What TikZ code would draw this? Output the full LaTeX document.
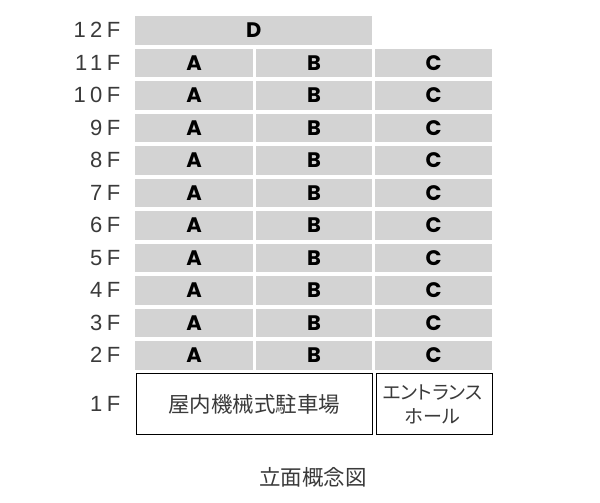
\documentclass[tikz,border=0pt]{standalone}
\usepackage{fontspec}
\setmainfont{Liberation Sans}
\newfontfamily\jpfont{Noto Sans CJK JP}
\newfontfamily\jpprop{Noto Sans CJK JP}[RawFeature=+palt]
\newfontfamily\letterfont{Poppins}
\newfontfamily\flfont{Liberation Sans}[LetterSpace=20]
\definecolor{cellgray}{HTML}{D3D3D3}
\definecolor{txtgray}{HTML}{3A3A3A}
\begin{document}
\begin{tikzpicture}[x=1pt,y=-1pt,
  cell/.style={rectangle, fill=cellgray, anchor=north west, inner sep=0pt,
    minimum height=28.5pt, font=\letterfont\bfseries\fontsize{21}{21}\selectfont, text=black},
  floorlbl/.style={anchor=east, inner sep=0pt, text=txtgray,
    font=\flfont\fontsize{22}{22}\selectfont},
  groundbox/.style={rectangle, draw=black, line width=1pt, fill=white, anchor=north west, inner sep=0pt,
    minimum height=61pt},
  jptext/.style={text=txtgray, inner sep=0pt, font=\jpfont\fontsize{21.5}{21.5}\selectfont},
  jpsmall/.style={text=txtgray, inner sep=0pt, align=center,
    font=\jpprop\fontsize{19}{23.5}\selectfont}
]
\useasboundingbox (0,0) rectangle (600,503);
% 12F
\node[floorlbl] (fl12) at (120.5,30.25) {12F};
\node[cell, minimum width=237pt] (d12) at (135,16) {D};
% 11F - 2F
\foreach \f in {2,...,11}{
  \pgfmathsetmacro\t{16+32.5*(12-\f)}
  \node[floorlbl] (fl\f) at (120.5,\t+14.25) {\f F};
  \node[cell, minimum width=118pt] (a\f) at (135,\t) {A};
  \node[cell, minimum width=116.5pt] (b\f) at (255.5,\t) {B};
  \node[cell, minimum width=117pt] (c\f) at (375,\t) {C};
}
% 1F
\node[floorlbl] (fl1) at (120.5,403.5) {1F};
\node[groundbox, minimum width=236pt] (park) at (135.5,373.2) {};
\node[groundbox, minimum width=116pt] (hall) at (375.5,373.2) {};
\node[jptext] (parktext) at (park.center) {屋内機械式駐車場};
\node[jpsmall] (halltext) at ([xshift=-1.5pt]hall.center) {エントランス\\ホール};
% caption
\node[jptext] (caption) at (313,477.5) {立面概念図};
\end{tikzpicture}
\end{document}
